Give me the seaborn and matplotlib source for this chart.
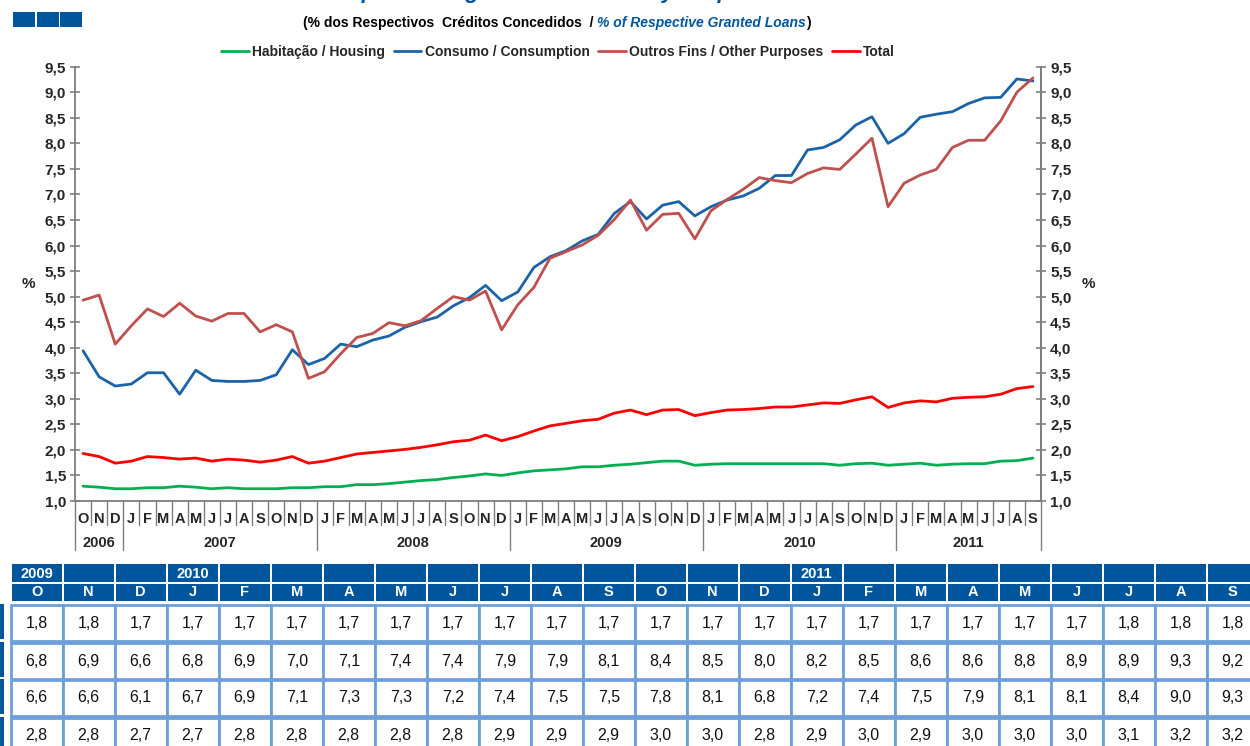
import numpy as np
import pandas as pd
import matplotlib
matplotlib.use("Agg")
import matplotlib.pyplot as plt
import matplotlib.transforms as mtransforms
from matplotlib.patches import Rectangle
from matplotlib.ticker import FuncFormatter, MultipleLocator
import seaborn as sns

# Oct 2006 .. Sep 2011
months = ["O", "N", "D"] + ["J", "F", "M", "A", "M", "J", "J", "A", "S", "O", "N", "D"] * 4 \
    + ["J", "F", "M", "A", "M", "J", "J", "A", "S"]
years = ["2006", "2007", "2008", "2009", "2010", "2011"]
year_len = [3, 12, 12, 12, 12, 9]

habitacao = [1.29, 1.27, 1.24, 1.24, 1.26, 1.26, 1.29, 1.27, 1.24, 1.26, 1.24, 1.24,
             1.24, 1.26, 1.26, 1.28, 1.28, 1.32, 1.32, 1.34, 1.37, 1.40, 1.42, 1.46,
             1.49, 1.53, 1.50, 1.55, 1.59, 1.61, 1.63, 1.67, 1.67, 1.70, 1.72, 1.75,
             1.78, 1.78, 1.70, 1.72, 1.73, 1.73, 1.73, 1.73, 1.73, 1.73, 1.73, 1.70,
             1.73, 1.74, 1.70, 1.72, 1.74, 1.70, 1.72, 1.73, 1.73, 1.78, 1.79, 1.84]
consumo = [3.94, 3.43, 3.25, 3.29, 3.51, 3.51, 3.09, 3.56, 3.36, 3.34, 3.34, 3.36,
           3.47, 3.96, 3.67, 3.79, 4.07, 4.02, 4.15, 4.23, 4.40, 4.51, 4.60, 4.82,
           4.98, 5.22, 4.92, 5.09, 5.57, 5.78, 5.90, 6.09, 6.22, 6.63, 6.86, 6.52,
           6.79, 6.86, 6.58, 6.76, 6.89, 6.97, 7.12, 7.37, 7.37, 7.87, 7.92, 8.07,
           8.36, 8.52, 8.00, 8.19, 8.51, 8.57, 8.62, 8.78, 8.89, 8.90, 9.26, 9.22]
outros = [4.93, 5.03, 4.07, 4.43, 4.76, 4.61, 4.87, 4.62, 4.52, 4.67, 4.67, 4.31,
          4.45, 4.31, 3.40, 3.53, 3.88, 4.20, 4.28, 4.49, 4.43, 4.53, 4.77, 5.00,
          4.93, 5.11, 4.35, 4.84, 5.18, 5.75, 5.88, 6.01, 6.20, 6.51, 6.89, 6.30,
          6.61, 6.63, 6.13, 6.68, 6.90, 7.10, 7.33, 7.27, 7.23, 7.41, 7.52, 7.49,
          7.79, 8.10, 6.76, 7.22, 7.38, 7.49, 7.92, 8.06, 8.06, 8.44, 9.00, 9.28]
total = [1.93, 1.87, 1.74, 1.78, 1.87, 1.85, 1.82, 1.84, 1.78, 1.82, 1.80, 1.76,
         1.80, 1.87, 1.74, 1.78, 1.85, 1.92, 1.95, 1.98, 2.01, 2.05, 2.10, 2.16,
         2.19, 2.29, 2.18, 2.26, 2.37, 2.47, 2.52, 2.57, 2.60, 2.72, 2.78, 2.69,
         2.78, 2.79, 2.67, 2.73, 2.78, 2.79, 2.81, 2.84, 2.84, 2.88, 2.92, 2.91,
         2.98, 3.04, 2.83, 2.92, 2.96, 2.94, 3.01, 3.03, 3.04, 3.09, 3.20, 3.24]

series_names = ["Habitação / Housing", "Consumo / Consumption",
                "Outros Fins / Other Purposes", "Total"]
colors = ["#00B050", "#1B63A8", "#C0504D", "#FF0000"]
table_start = 36  # table shows Oct 2009 onwards

sns.set_style("white")
plt.rcParams["font.family"] = ["Liberation Sans", "DejaVu Sans"]

DARK = "#00569D"
GRID_BLUE = "#6F9FDA"
AXIS_GREY = "#7F7F7F"


def fmt(v, pos=None):
    return f"{v:.1f}".replace(".", ",")


def main():
    fig = plt.figure(figsize=(12.5, 7.46), dpi=100)
    W, H = 1250, 746
    left, right, top, bottom = 75, 1041, 66.7, 501
    ax = fig.add_axes([left / W, 1 - bottom / H, (right - left) / W, (bottom - top) / H])

    df = pd.DataFrame({
        "mes": list(range(len(months))) * 4,
        "valor": habitacao + consumo + outros + total,
        "serie": np.repeat(series_names, len(months)),
    })
    sns.lineplot(data=df, x="mes", y="valor", hue="serie", hue_order=series_names,
                 palette=colors, linewidth=2.0, ax=ax, sort=False)

    ax.set_xlim(-0.5, len(months) - 0.5)
    ax.set_ylim(1.0, 9.5)
    ax.yaxis.set_major_locator(MultipleLocator(0.5))
    ax.yaxis.set_major_formatter(FuncFormatter(fmt))
    ax.set_xticks(range(len(months)))
    ax.set_xticklabels(months, fontweight="bold", fontsize=10.5)
    ax.tick_params(axis="x", length=0, pad=8)
    ax.tick_params(axis="y", direction="inout", length=7, width=1.2, color=AXIS_GREY,
                   labelsize=11, pad=3)
    for lab in ax.get_yticklabels():
        lab.set_fontweight("bold")
    ax.set_xlabel("")
    ax.set_ylabel("")
    ax.spines["top"].set_visible(False)
    for s in ["left", "right", "bottom"]:
        ax.spines[s].set_color(AXIS_GREY)
        ax.spines[s].set_linewidth(1.3)

    ax2 = ax.twinx()
    ax2.set_ylim(ax.get_ylim())
    ax2.yaxis.set_major_locator(MultipleLocator(0.5))
    ax2.yaxis.set_major_formatter(FuncFormatter(fmt))
    ax2.tick_params(axis="y", direction="inout", length=7, width=1.2, color=AXIS_GREY,
                    labelsize=11, pad=3)
    for lab in ax2.get_yticklabels():
        lab.set_fontweight("bold")
    for s in ["top", "left", "bottom"]:
        ax2.spines[s].set_visible(False)
    ax2.spines["right"].set_color(AXIS_GREY)
    ax2.spines["right"].set_linewidth(1.3)

    # month / year separators under the axis
    ah = bottom - top
    trans = mtransforms.blended_transform_factory(ax.transData, ax.transAxes)
    bounds = np.cumsum([0] + year_len)
    for b in range(len(months) + 1):
        depth = 49 if b in bounds else 24
        ax.plot([b - 0.5, b - 0.5], [0, -depth / ah], color=AXIS_GREY, lw=1.0,
                transform=trans, clip_on=False)
    for yr, a, b in zip(years, bounds[:-1], bounds[1:]):
        ax.text((a + b - 1) / 2, -42 / ah, yr, transform=trans, ha="center", va="center",
                fontsize=10.5, fontweight="bold")

    # legend
    sns.move_legend(ax, "center", bbox_to_anchor=(0.5, 1 + 15 / ah), ncol=4, frameon=False,
                    title=None, handlelength=2.0, handletextpad=0.25, columnspacing=0.6,
                    prop={"weight": "bold", "size": 10})
    for line in ax.get_legend().get_lines():
        line.set_linewidth(2.0)

    # overlay in pixel coordinates for header / table
    ov = fig.add_axes([0, 0, 1, 1], zorder=-1)
    ov.set_xlim(0, W)
    ov.set_ylim(H, 0)
    ov.axis("off")

    # chart title, cut off at the top edge as in the source page
    ov.text(540, -2, "Non-performing Granted Loans by Purpose", ha="center", va="baseline",
            fontsize=16, fontweight="bold", fontstyle="italic", color=DARK)
    t1 = ov.text(303, 23, "(% dos Respectivos  Créditos Concedidos  / ", ha="left",
                 va="center", fontsize=10, fontweight="bold", color="black")
    fig.canvas.draw()
    bb = t1.get_window_extent().transformed(ov.transData.inverted())
    t2 = ov.text(bb.x1, 23, "% of Respective Granted Loans", ha="left", va="center",
                 fontsize=10, fontweight="bold", fontstyle="italic", color=DARK)
    fig.canvas.draw()
    bb = t2.get_window_extent().transformed(ov.transData.inverted())
    ov.text(bb.x1, 23, ")", ha="left", va="center", fontsize=10, fontweight="bold",
            color="black")

    for k in range(3):
        ov.add_patch(Rectangle((13 + k * 23.5, 12), 22, 15, color=DARK, lw=0))

    ov.text(28, 284, "%", ha="center", va="center", fontsize=11, fontweight="bold")
    ov.text(1088, 284, "%", ha="center", va="center", fontsize=11, fontweight="bold")

    # data table (Oct 2009 .. Sep 2011)
    x0, cw = 10.7, 52.0
    row_tops = [605, 643, 680, 718]
    rh = 36
    tab_series = [habitacao, consumo, outros, total]
    n = len(months) - table_start
    for j in range(n):
        idx = table_start + j
        xl = x0 + j * cw
        ov.add_patch(Rectangle((xl + 1, 564), cw - 2, 18, color=DARK, lw=0))
        ov.add_patch(Rectangle((xl + 1, 583.5), cw - 2, 17, color=DARK, lw=0))
        ov.text(xl + cw / 2, 592, months[idx], ha="center", va="center", color="white",
                fontsize=10.5, fontweight="bold")
        if j == 0 or months[idx] == "J" and months[idx - 1] == "D":
            yr = years[np.searchsorted(bounds, idx, side="right") - 1]
            ov.text(xl + cw / 2, 573.5, yr, ha="center", va="center", color="white",
                    fontsize=10.5, fontweight="bold")
        for r, vals in enumerate(tab_series):
            ov.add_patch(Rectangle((xl, row_tops[r]), cw, rh, facecolor="white",
                                   edgecolor=GRID_BLUE, lw=2))
            ov.text(xl + cw / 2, row_tops[r] + rh / 2, fmt(vals[idx]), ha="center",
                    va="center", fontsize=11.5, color="#111111")
    for r in range(4):
        ov.add_patch(Rectangle((0, row_tops[r] - 1), 3.5, rh - 1, color=DARK, lw=0))

    fig.savefig("out.png", dpi=100)


if __name__ == "__main__":
    main()
